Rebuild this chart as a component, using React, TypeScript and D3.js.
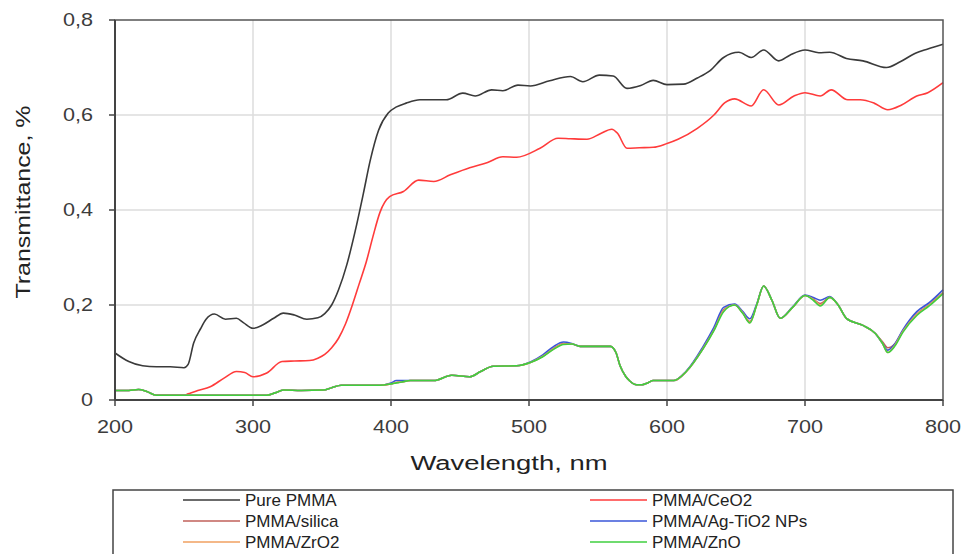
import React from "react";
import * as d3 from "d3";

// axis ticks
const xTicks = [200, 300, 400, 500, 600, 700, 800];
const yTicks = [0, 0.2, 0.4, 0.6, 0.8];
const yTickLabels = ["0", "0,2", "0,4", "0,6", "0,8"];

// Pure PMMA
const pureWl = [200, 210, 220, 230, 240, 250, 253, 257, 262, 266, 272, 280, 288, 293, 300, 307, 315, 322, 330, 339, 347, 352, 357, 362, 368, 374, 380, 385, 391, 398, 404, 411, 421, 440, 452, 461, 473, 481, 492, 501, 515, 530, 539, 551, 561, 571, 581, 590, 600, 612, 622, 631, 641, 652, 661, 670, 681, 689, 700, 710, 718, 730, 742, 759, 769, 780, 789, 800];
const pureT = [0.099, 0.081, 0.072, 0.07, 0.07, 0.068, 0.075, 0.12, 0.15, 0.17, 0.181, 0.17, 0.172, 0.163, 0.151, 0.158, 0.172, 0.183, 0.179, 0.17, 0.173, 0.182, 0.2, 0.232, 0.285, 0.355, 0.435, 0.505, 0.568, 0.604, 0.617, 0.625, 0.632, 0.632, 0.646, 0.64, 0.653, 0.651, 0.663, 0.661, 0.672, 0.681, 0.67, 0.684, 0.682, 0.656, 0.662, 0.673, 0.664, 0.665, 0.678, 0.693, 0.721, 0.732, 0.721, 0.737, 0.714, 0.726, 0.737, 0.731, 0.732, 0.719, 0.714, 0.7, 0.712, 0.73, 0.739, 0.749];

// PMMA/CeO2
const ceWl = [230, 250, 253, 260, 269, 279, 288, 294, 300, 310, 321, 330, 341, 347, 352, 357, 362, 367, 372, 377, 382, 387, 392, 399, 409, 420, 431, 443, 457, 470, 481, 491, 508, 521, 530, 542, 552, 560, 564, 571, 580, 590, 600, 608, 622, 634, 642, 649, 661, 670, 681, 692, 700, 711, 719, 731, 740, 750, 760, 770, 781, 789, 800];
const ceT = [0.01, 0.01, 0.013, 0.02, 0.028, 0.046, 0.06, 0.058, 0.049, 0.057, 0.081, 0.082, 0.083, 0.088, 0.096, 0.11, 0.13, 0.16, 0.2, 0.245, 0.29, 0.345, 0.395, 0.428, 0.439, 0.463, 0.46, 0.474, 0.489, 0.5, 0.512, 0.511, 0.53, 0.551, 0.55, 0.549, 0.561, 0.57, 0.562, 0.53, 0.531, 0.532, 0.54, 0.549, 0.572, 0.6, 0.626, 0.634, 0.619, 0.653, 0.621, 0.64, 0.647, 0.64, 0.653, 0.632, 0.632, 0.625, 0.611, 0.621, 0.64, 0.647, 0.668];

// shared wavelength grid of the four nanoparticle films
const nanoWl = [200, 210, 217, 223, 230, 250, 280, 310, 316, 322, 335, 351, 357, 364, 392, 400, 404, 408, 414, 431, 444, 457, 465, 474, 491, 501, 510, 518, 525, 531, 537, 559, 563, 566, 570, 573, 578, 582, 586, 590, 605, 614, 626, 634, 641, 649, 655, 660, 665, 670, 676, 682, 691, 700, 706, 711, 718, 724, 730, 742, 751, 756, 760, 765, 771, 781, 790, 800];
const silicaT = [0.02, 0.02, 0.022, 0.018, 0.01, 0.01, 0.01, 0.01, 0.015, 0.021, 0.02, 0.021, 0.026, 0.031, 0.031, 0.034, 0.037, 0.038, 0.041, 0.041, 0.052, 0.049, 0.06, 0.071, 0.072, 0.079, 0.092, 0.109, 0.119, 0.118, 0.113, 0.113, 0.1, 0.072, 0.05, 0.04, 0.032, 0.032, 0.036, 0.041, 0.041, 0.06, 0.108, 0.148, 0.19, 0.2, 0.183, 0.165, 0.2, 0.24, 0.21, 0.172, 0.195, 0.22, 0.213, 0.203, 0.216, 0.2, 0.172, 0.157, 0.14, 0.123, 0.11, 0.118, 0.146, 0.181, 0.201, 0.226];
const agTiT = [0.02, 0.02, 0.022, 0.018, 0.01, 0.01, 0.01, 0.01, 0.015, 0.021, 0.02, 0.021, 0.026, 0.031, 0.031, 0.036, 0.041, 0.041, 0.041, 0.041, 0.052, 0.049, 0.06, 0.071, 0.072, 0.08, 0.095, 0.113, 0.122, 0.119, 0.113, 0.113, 0.1, 0.072, 0.05, 0.04, 0.032, 0.032, 0.036, 0.041, 0.041, 0.061, 0.112, 0.153, 0.195, 0.202, 0.186, 0.171, 0.202, 0.24, 0.21, 0.172, 0.196, 0.221, 0.216, 0.21, 0.218, 0.2, 0.172, 0.157, 0.14, 0.12, 0.105, 0.118, 0.148, 0.186, 0.205, 0.232];
const zrT = [0.02, 0.02, 0.022, 0.018, 0.01, 0.01, 0.01, 0.01, 0.015, 0.021, 0.02, 0.021, 0.026, 0.031, 0.031, 0.034, 0.037, 0.038, 0.041, 0.041, 0.052, 0.049, 0.06, 0.071, 0.072, 0.079, 0.092, 0.108, 0.118, 0.118, 0.113, 0.113, 0.1, 0.072, 0.05, 0.04, 0.032, 0.032, 0.036, 0.041, 0.041, 0.06, 0.108, 0.147, 0.188, 0.2, 0.183, 0.163, 0.2, 0.24, 0.21, 0.172, 0.195, 0.22, 0.212, 0.2, 0.216, 0.2, 0.172, 0.157, 0.14, 0.12, 0.1, 0.115, 0.145, 0.18, 0.2, 0.225];
const znT = [0.02, 0.02, 0.022, 0.018, 0.01, 0.01, 0.01, 0.01, 0.015, 0.021, 0.02, 0.021, 0.026, 0.031, 0.031, 0.034, 0.036, 0.038, 0.041, 0.041, 0.052, 0.049, 0.06, 0.071, 0.072, 0.079, 0.091, 0.107, 0.117, 0.118, 0.113, 0.113, 0.1, 0.072, 0.05, 0.04, 0.032, 0.032, 0.036, 0.041, 0.041, 0.06, 0.107, 0.146, 0.186, 0.2, 0.182, 0.162, 0.2, 0.24, 0.21, 0.172, 0.195, 0.22, 0.21, 0.198, 0.216, 0.2, 0.172, 0.157, 0.14, 0.12, 0.1, 0.113, 0.143, 0.178, 0.198, 0.224];

const seriesNames = ["Pure PMMA", "PMMA/CeO2", "PMMA/silica", "PMMA/Ag-TiO2 NPs", "PMMA/ZrO2", "PMMA/ZnO"];
const seriesColors = ["#3a3a3a", "#ff3b3b", "#c0605a", "#3a56d8", "#f0a060", "#3fcf3f"];

const W = 964, H = 554;
const margin = { left: 115, right: 21, top: 20, bottom: 154 };
const stretch = 1.2; // the original tick text is drawn wider than it is tall

export default function App() {
  const x = d3.scaleLinear().domain([200, 800]).range([margin.left, W - margin.right]);
  const y = d3.scaleLinear().domain([0, 0.8]).range([H - margin.bottom, margin.top]);

  const series = [
    { wl: pureWl, t: pureT },
    { wl: ceWl, t: ceT },
    { wl: nanoWl, t: silicaT },
    { wl: nanoWl, t: agTiT },
    { wl: nanoWl, t: zrT },
    { wl: nanoWl, t: znT },
  ];

  const line = d3.line<number>().curve(d3.curveMonotoneX);
  const path = (s: { wl: number[]; t: number[] }) =>
    line.x((_, i) => x(s.wl[i])).y(d => y(d))(s.t) || "";

  const [x0, x1] = x.range();
  const [yb, yt] = y.range();
  const font = "'Liberation Sans', Arial, sans-serif";
  const tickColor = "#3c3c3c";

  return (
    <svg width={W} height={H} style={{ position: "absolute", left: 0, top: 0, background: "#fff" }}>
      {/* grid */}
      {xTicks.slice(1, -1).map(v => (
        <line key={"gx" + v} x1={x(v)} x2={x(v)} y1={yt} y2={yb} stroke="#dcdcdc" strokeWidth={1.5} />
      ))}
      {yTicks.slice(1, -1).map(v => (
        <line key={"gy" + v} x1={x0} x2={x1} y1={y(v)} y2={y(v)} stroke="#dcdcdc" strokeWidth={1.5} />
      ))}

      {/* curves */}
      {series.map((s, i) => (
        <path key={seriesNames[i]} d={path(s)} fill="none" stroke={seriesColors[i]} strokeWidth={1.6} strokeLinejoin="round" />
      ))}

      {/* frame */}
      <rect x={x0} y={yt} width={x1 - x0} height={yb - yt} fill="none" stroke="#555" strokeWidth={1.5} />
      <line x1={x0} x2={x0} y1={yt} y2={yb} stroke="#444" strokeWidth={2} />
      <line x1={x0} x2={x1} y1={yb} y2={yb} stroke="#444" strokeWidth={2} />

      {/* x axis */}
      {xTicks.map(v => (
        <g key={"xt" + v}>
          <line x1={x(v)} x2={x(v)} y1={yb} y2={yb + 6} stroke="#444" strokeWidth={1.5} />
          <text transform={`translate(${x(v)},433) scale(${stretch},1)`} textAnchor="middle" fontFamily={font} fontSize={18} fill={tickColor}>{v}</text>
        </g>
      ))}
      {/* y axis */}
      {yTicks.map((v, i) => (
        <g key={"yt" + v}>
          <line x1={x0 - 6} x2={x0} y1={y(v)} y2={y(v)} stroke="#444" strokeWidth={1.5} />
          <text transform={`translate(93,${y(v) + 6}) scale(${stretch},1)`} textAnchor="end" fontFamily={font} fontSize={18} fill={tickColor}>{yTickLabels[i]}</text>
        </g>
      ))}

      {/* axis titles */}
      <text x={509} y={470} textAnchor="middle" fontFamily={font} fontSize={20} textLength={197} lengthAdjust="spacingAndGlyphs" fill="#222">Wavelength, nm</text>
      <text transform="translate(30,202) rotate(-90)" textAnchor="middle" fontFamily={font} fontSize={20} textLength={193} lengthAdjust="spacingAndGlyphs" fill="#222">Transmittance, %</text>

      {/* legend */}
      <rect x={113} y={490} width={840} height={80} fill="none" stroke="#444" strokeWidth={1.5} />
      {seriesNames.map((name, i) => {
        const col = i % 2, row = Math.floor(i / 2);
        const lx = col === 0 ? 183 : 590;
        const ly = 500 + row * 21;
        return (
          <g key={"lg" + name}>
            <line x1={lx} x2={lx + 57} y1={ly} y2={ly} stroke={seriesColors[i]} strokeWidth={1.6} />
            <text x={lx + 62} y={ly + 6} fontFamily={font} fontSize={17} fill="#222">{name}</text>
          </g>
        );
      })}
    </svg>
  );
}
